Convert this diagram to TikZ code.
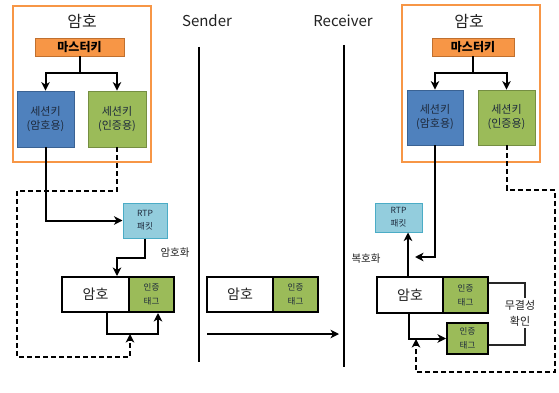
\documentclass[tikz,border=0pt]{standalone}
\usepackage{fontspec}
\setmainfont{Noto Sans CJK KR}
\usetikzlibrary{arrows.meta}

\definecolor{frameorange}{HTML}{F79646}
\definecolor{mfill}{HTML}{F79646}
\definecolor{mdraw}{HTML}{C0702F}
\definecolor{bluefill}{HTML}{4F81BD}
\definecolor{bluedraw}{HTML}{3A6293}
\definecolor{greenfill}{HTML}{9BBB59}
\definecolor{greendraw}{HTML}{758E42}
\definecolor{rtpfill}{HTML}{93CDDD}
\definecolor{rtpdraw}{HTML}{4BACC6}
\definecolor{txt}{HTML}{222222}
\definecolor{boxtxt}{HTML}{1E2A3C}

\begin{document}
\begin{tikzpicture}[x=1pt,y=-1pt,
  every node/.style={inner sep=0pt, align=center, text=txt},
  frame/.style={draw=frameorange, line width=1.8pt},
  titletext/.style={font=\fontsize{16}{18}\selectfont},
  heading/.style={font=\fontsize{15}{17}\selectfont},
  masterbox/.style={fill=mfill, draw=mdraw, line width=0.8pt, text=black,
    font=\bfseries\fontsize{12}{14}\selectfont},
  keyenc/.style={fill=bluefill, draw=bluedraw, line width=0.8pt, text=boxtxt,
    font=\fontsize{11}{14}\selectfont},
  keyauth/.style={fill=greenfill, draw=greendraw, line width=0.8pt, text=boxtxt,
    font=\fontsize{11}{14}\selectfont},
  rtpbox/.style={fill=rtpfill, draw=rtpdraw, line width=1pt, text=boxtxt,
    font=\fontsize{8.5}{13}\selectfont},
  databox/.style={draw=black, line width=2pt, fill=white,
    font=\fontsize{14}{16}\selectfont},
  tagbox/.style={draw=black, line width=2pt, fill=greenfill, text=boxtxt,
    font=\fontsize{8.5}{14}\selectfont},
  steplabel/.style={font=\fontsize{10.5}{14}\selectfont},
  conn/.style={line width=2pt, -{Stealth[length=8.5pt,width=8.5pt,inset=2.5pt]}},
  dconn/.style={conn, dash pattern=on 5pt off 3pt},
  plain/.style={line width=2pt},
  lifeline/.style={line width=1.7pt},
  thinline/.style={line width=1.3pt, draw=black!85},
]
\useasboundingbox (0,0) rectangle (559,393);

% ---------------- sender side ----------------
\node[frame, minimum width=138, minimum height=156] (frameL) at (82,84) {};
\node[titletext] (titleL) at (82,21) {암호};
\node[masterbox, minimum width=89, minimum height=18] (masterL) at (79.5,47) {마스터키};
\node[keyenc, minimum width=57, minimum height=56] (encL) at (45.5,119) {세션키\\(암호용)};
\node[keyauth, minimum width=58, minimum height=56] (authL) at (117,119) {세션키\\(인증용)};
\node[rtpbox, minimum width=44, minimum height=35] (rtpL) at (145,220.5) {RTP\\패킷};
\node[databox, minimum width=67, minimum height=35] (dataL) at (95.5,294.5) {암호};
\node[tagbox, minimum width=45, minimum height=35] (tagL) at (151.5,294.5) {인증\\태그};
\node[steplabel] (encLbl) at (175,253) {암호화};

\coordinate (splitL) at (79.5,73);
\draw[plain] (masterL.south) -- (splitL);
\draw[conn] (splitL) -| (encL.north);
\draw[conn] (splitL) -| (authL.north);
\draw[conn] (encL.south) |- (rtpL.west);
\coordinate (bendL) at (117,258);
\draw[conn] (rtpL.south) |- (bendL) -- (bendL |- dataL.north);
\coordinate (loopL) at (107,334);
\coordinate (loopEndL) at (158,334);
\draw[conn] (dataL.south -| loopL) -- (loopL) -- (loopEndL) -- (loopEndL |- tagL.south);
\coordinate (dashA) at (17,191);
\coordinate (dashB) at (17,357);
\coordinate (dashTipL) at (130,334);
\draw[dconn] (authL.south) |- (dashA) -- (dashB) -| (dashTipL);

% ---------------- channel ----------------
\node[heading] (sender) at (207,21) {Sender};
\node[heading] (receiver) at (343,21) {Receiver};
\coordinate (sTop) at (199,47);
\coordinate (sBot) at (199,362);
\coordinate (rTop) at (344,45);
\coordinate (rBot) at (344,367);
\draw[lifeline] (sTop) -- (sBot);
\draw[lifeline] (rTop) -- (rBot);
\node[databox, minimum width=66, minimum height=35] (dataM) at (240,294.5) {암호};
\node[tagbox, minimum width=45, minimum height=35] (tagM) at (295.5,294.5) {인증\\태그};
\coordinate (sendFrom) at (207,334);
\coordinate (sendTo) at (339,334);
\draw[conn] (sendFrom) -- (sendTo);

% ---------------- receiver side ----------------
\node[frame, minimum width=138, minimum height=157] (frameR) at (471,83.5) {};
\node[titletext] (titleR) at (469,21) {암호};
\node[masterbox, minimum width=82, minimum height=18] (masterR) at (473,47) {마스터키};
\node[keyenc, minimum width=56, minimum height=55] (encR) at (435,117.5) {세션키\\(암호용)};
\node[keyauth, minimum width=57, minimum height=55] (authR) at (506.5,117.5) {세션키\\(인증용)};
\node[rtpbox, minimum width=47, minimum height=29] (rtpR) at (398.5,217.5) {RTP\\패킷};
\node[databox, minimum width=66, minimum height=36] (dataR) at (410,295) {암호};
\node[tagbox, minimum width=45, minimum height=36] (tagR) at (465.5,295) {인증\\태그};
\node[tagbox, minimum width=41, minimum height=31] (tag2R) at (467.5,338.5) {인증\\태그};
\node[steplabel] (decLbl) at (366,259) {복호화};

\coordinate (splitR) at (473,73);
\draw[plain] (masterR.south) -- (splitR);
\draw[conn] (splitR) -| (encR.north);
\draw[conn] (splitR) -| (authR.north);
\coordinate (decTip) at (415,257);
\draw[conn] (encR.south) |- (decTip);
\draw[conn] ([xshift=-2pt]dataR.north) -- ([xshift=9.5pt]rtpR.south);
\draw[conn] ([xshift=-1pt]dataR.south) |- (tag2R.west);
\coordinate (chkTop) at (525,283);
\coordinate (chkBot) at (525,345);
\draw[thinline] ([yshift=12pt]tagR.east) -- (chkTop) -- (chkBot) -- ([yshift=-6.5pt]tag2R.east);
\node[steplabel, fill=white, inner sep=2pt, font=\fontsize{11}{16}\selectfont] (chkLbl) at (520,313) {무결성\\확인};
\coordinate (dR1) at (555,190);
\coordinate (dR2) at (555,372);
\coordinate (dRtip) at (416,339);
\draw[dconn] (authR.south) |- (dR1) -- (dR2) -| (dRtip);
\end{tikzpicture}
\end{document}
